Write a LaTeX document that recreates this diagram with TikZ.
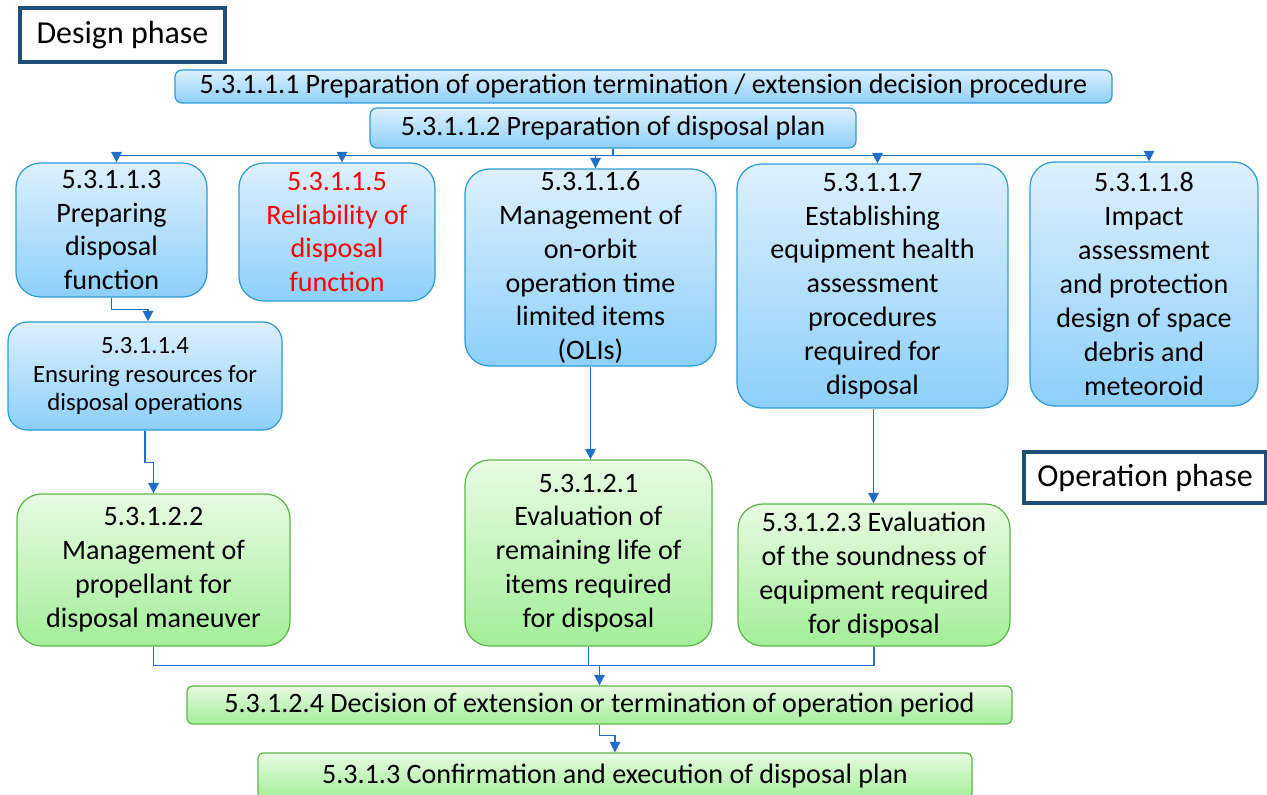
\documentclass[tikz,border=0pt]{standalone}
\usepackage{fontspec}
\setmainfont{Carlito}
\usetikzlibrary{arrows.meta,calc}
\definecolor{btop}{HTML}{DDF0FD}
\definecolor{bbot}{HTML}{8DCFFA}
\definecolor{bline}{HTML}{2E9AD6}
\definecolor{gtop}{HTML}{E8FBE3}
\definecolor{gbot}{HTML}{A3EE99}
\definecolor{gline}{HTML}{5CB548}
\definecolor{arrc}{HTML}{1F6FC8}
\definecolor{phase}{HTML}{1F4E79}
\tikzset{
  sz/.style 2 args={minimum width=#1*0.02cm, minimum height=#2*0.02cm},
  base/.style={draw, line width=0.7pt, align=center, inner sep=1pt,
    font=\fontsize{16}{19.3}\selectfont},
  bluebox/.style={base, draw=bline, top color=btop, bottom color=bbot, rounded corners=14pt},
  bluebar/.style={base, draw=bline, top color=btop, bottom color=bbot, rounded corners=4pt},
  greenbox/.style={base, draw=gline, top color=gtop, bottom color=gbot, rounded corners=14pt},
  greenbar/.style={base, draw=gline, top color=gtop, bottom color=gbot, rounded corners=3pt},
  phasebox/.style={draw=phase, line width=1.8pt, fill=white, inner sep=2pt,
    font=\fontsize{18.2}{21}\selectfont},
  line/.style={draw=arrc, line width=0.85pt},
  arr/.style={line, -{Triangle[length=6pt,width=6pt]}},
}
\begin{document}
\begin{tikzpicture}[x=0.02cm,y=-0.02cm]
\useasboundingbox (0,0) rectangle (1267,794);
% phase labels
\node[phasebox, sz={205}{54}] (design) at (122.5,35) {Design phase};
\node[phasebox, sz={242}{51}] (oper) at (1145,477.5) {Operation phase};
% top bars
\node[bluebar, sz={937}{33}] (p1) at (643.5,86.5) {5.3.1.1.1 Preparation of operation termination / extension decision procedure};
\node[bluebar, sz={486}{40}] (p2) at (613,128) {5.3.1.1.2 Preparation of disposal plan};
% design boxes
\node[bluebox, sz={191}{134}] (b3) at (111.5,230) {5.3.1.1.3\\Preparing\\disposal\\function};
\node[bluebox, sz={196}{138}, text=red] (b5) at (337,232) {5.3.1.1.5\\Reliability of\\disposal\\function};
\node[bluebox, sz={251}{197}] (b6) at (590.5,267.5) {5.3.1.1.6\\Management of\\on-orbit\\operation time\\limited items\\(OLIs)};
\node[bluebox, sz={271}{244}] (b7) at (872.5,286) {5.3.1.1.7\\Establishing\\equipment health\\assessment\\procedures\\required for\\disposal};
\node[bluebox, sz={228}{244}] (b8) at (1144,284) {5.3.1.1.8\\Impact\\assessment\\and protection\\design of space\\debris and\\meteoroid};
\node[bluebox, sz={274}{108}, rounded corners=11pt, font=\fontsize{14.1}{16.2}\selectfont] (b4) at (145,376) {5.3.1.1.4\\Ensuring resources for\\disposal operations};
% operation boxes
\node[greenbox, sz={273}{152}] (g22) at (153.5,570) {5.3.1.2.2\\Management of\\propellant for\\disposal maneuver};
\node[greenbox, sz={247}{186}] (g21) at (588.5,553) {5.3.1.2.1\\Evaluation of\\remaining life of\\items required\\for disposal};
\node[greenbox, sz={272}{142}] (g23) at (874,575) {5.3.1.2.3 Evaluation\\of the soundness of\\equipment required\\for disposal};
\node[greenbar, sz={825}{38}] (g24) at (599.5,705) {5.3.1.2.4 Decision of extension or termination of operation period};
\node[greenbar, sz={714}{46}] (g3) at (615,776) {5.3.1.3 Confirmation and execution of disposal plan};
% connectors from 5.3.1.1.2
\coordinate (fan) at ($(p2.south)+(0,7)$);
\foreach \t in {b3,b5,b6,b7,b8}{
  \draw[arr] (p2.south) -- (fan) -| ([xshift=5*0.02cm]\t.north);
}
\draw[arr] (b3.south) -- ++(0,12) -| ([xshift=3*0.02cm]b4.north);
\draw[arr] (b4.south) -- ++(0,32) -| (g22.north);
\draw[arr] (b6.south) -- (b6.south |- g21.north);
\draw[arr] ([xshift=1*0.02cm]b7.south) -- ([xshift=1*0.02cm]b7.south |- g23.north);
% merge
\coordinate (m) at ($(g24.north)+(0,-20)$);
\draw[line] (g22.south) |- (m);
\draw[line] (g21.south) |- (m);
\draw[line] (g23.south) |- (m);
\draw[arr] (m) -- (g24.north);
\draw[arr] (g24.south) -- ++(0,11) -| (g3.north);
\end{tikzpicture}
\end{document}
